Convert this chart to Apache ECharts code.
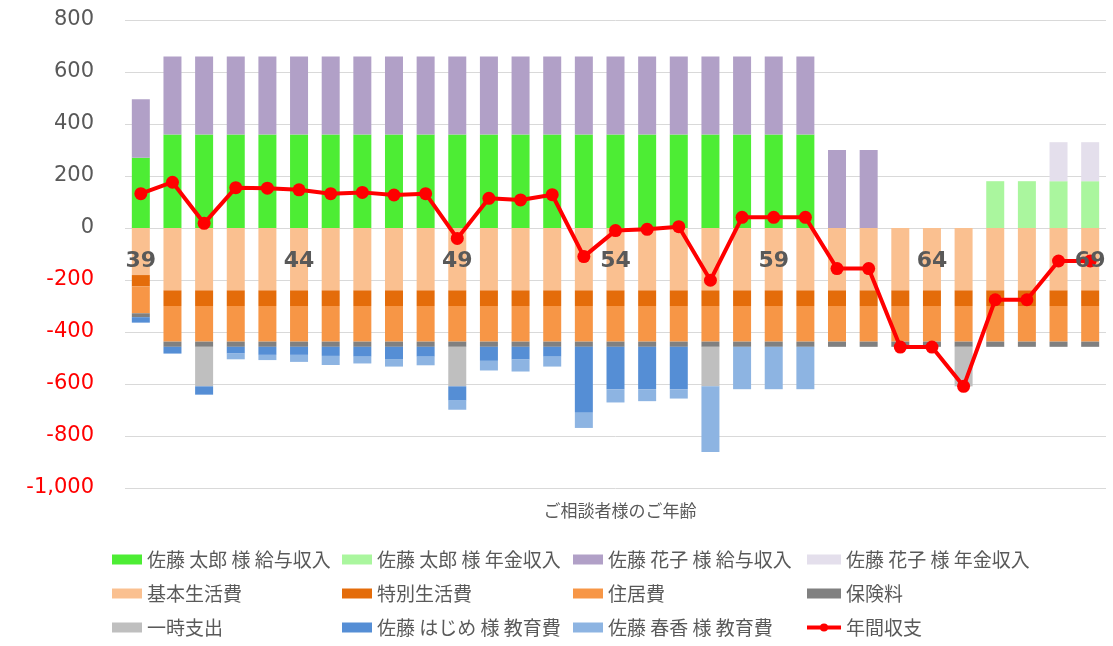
<!DOCTYPE html>
<html>
<head>
<meta charset="utf-8">
<script src="https://cdn.jsdelivr.net/npm/echarts@6/dist/echarts.min.js"></script>
<style>
  html, body { margin: 0; padding: 0; background: #fff; }
  #chart { width: 1113px; height: 646px; }
</style>
</head>
<body>
<div id="chart"></div>
<script>
// ご相談者様の年齢
const ages = ["39", "40", "41", "42", "43", "44", "45", "46", "47", "48", "49", "50", "51", "52", "53", "54",
  "55", "56", "57", "58", "59", "60", "61", "62", "63", "64", "65", "66", "67", "68", "69"];

// 収入 (プラス側)
const taroSalary = [270, 360, 360, 360, 360, 360, 360, 360, 360, 360, 360, 360, 360, 360, 360, 360,
  360, 360, 360, 360, 360, 360, 0, 0, 0, 0, 0, 0, 0, 0, 0];
const taroPension = [0, 0, 0, 0, 0, 0, 0, 0, 0, 0, 0, 0, 0, 0, 0, 0,
  0, 0, 0, 0, 0, 0, 0, 0, 0, 0, 0, 180, 180, 180, 180];
const hanakoSalary = [225, 300, 300, 300, 300, 300, 300, 300, 300, 300, 300, 300, 300, 300, 300, 300,
  300, 300, 300, 300, 300, 300, 300, 300, 0, 0, 0, 0, 0, 0, 0];
const hanakoPension = [0, 0, 0, 0, 0, 0, 0, 0, 0, 0, 0, 0, 0, 0, 0, 0,
  0, 0, 0, 0, 0, 0, 0, 0, 0, 0, 0, 0, 0, 150, 150];

// 支出 (マイナス側)
const basicLiving = [-181, -240, -240, -240, -240, -240, -240, -240, -240, -240, -240, -240, -240, -240, -240, -240,
  -240, -240, -240, -240, -240, -240, -240, -240, -240, -240, -240, -240, -240, -240, -240];
const specialLiving = [-44, -60, -60, -60, -60, -60, -60, -60, -60, -60, -60, -60, -60, -60, -60, -60,
  -60, -60, -60, -60, -60, -60, -60, -60, -60, -60, -60, -60, -60, -60, -60];
const housing = [-103, -137, -137, -137, -137, -137, -137, -137, -137, -137, -137, -137, -137, -137, -137, -137,
  -137, -137, -137, -137, -137, -137, -137, -137, -137, -137, -137, -137, -137, -137, -137];
const insurance = [-15, -20, -20, -20, -20, -20, -20, -20, -20, -20, -20, -20, -20, -20, -20, -20,
  -20, -20, -20, -20, -20, -20, -20, -20, -20, -20, -20, -20, -20, -20, -20];
const oneTime = [0, 0, -152, 0, 0, 0, 0, 0, 0, 0, -152, 0, 0, 0, 0, 0,
  0, 0, -152, 0, 0, 0, 0, 0, 0, 0, -152, 0, 0, 0, 0];
const hajimeEdu = [-21, -26, -32, -26, -31, -31, -35, -38, -47, -38, -55, -54, -49, -38, -254, -163,
  -163, -163, 0, 0, 0, 0, 0, 0, 0, 0, 0, 0, 0, 0, 0];
const harukaEdu = [0, 0, 0, -22, -20, -27, -35, -26, -29, -33, -35, -37, -46, -38, -58, -51,
  -46, -36, -253, -163, -163, -163, 0, 0, 0, 0, 0, 0, 0, 0, 0];

// 年間収支
const balance = [132, 176, 18, 155, 153, 147, 132, 137, 127, 132, -40, 114, 108, 128, -110, -10,
  -5, 5, -201, 41, 41, 41, -156, -156, -458, -458, -609, -276, -276, -127, -127];

const font = "Noto Sans CJK JP";
const textGray = "#595959";

const myChart = echarts.init(document.getElementById("chart"));

function barSeries(name, data, color) {
  return {
    name: name,
    type: "bar",
    stack: "total",
    data: data,
    barWidth: 18,
    itemStyle: { color: color },
  };
}

const legendBase = {
  orient: "vertical",
  top: 550,
  padding: 0,
  itemWidth: 30,
  itemHeight: 10,
  itemGap: 15,
  textStyle: { color: textGray, fontSize: 19, fontFamily: font },
};

function rectItems(names) {
  return names.map((n) => ({ name: n, icon: "rect" }));
}

const option = {
  animation: false,
  textStyle: { fontFamily: font },
  title: {
    text: "ご相談者様のご年齢",
    left: 615,
    top: 497,
    textAlign: "center",
    textStyle: { color: textGray, fontSize: 17, fontWeight: "normal", fontFamily: font },
  },
  grid: { left: 125, right: 7, top: 20, height: 468 },
  legend: [
    Object.assign({}, legendBase, { left: 112, data: rectItems(["佐藤 太郎 様 給与収入", "基本生活費", "一時支出"]) }),
    Object.assign({}, legendBase, { left: 342, data: rectItems(["佐藤 太郎 様 年金収入", "特別生活費", "佐藤 はじめ 様 教育費"]) }),
    Object.assign({}, legendBase, { left: 573, data: rectItems(["佐藤 花子 様 給与収入", "住居費", "佐藤 春香 様 教育費"]) }),
    Object.assign({}, legendBase, {
      left: 805,
      itemWidth: 34,
      data: rectItems(["佐藤 花子 様 年金収入", "保険料"]).concat([{ name: "年間収支", lineStyle: { width: 4 } }]),
    }),
  ],
  xAxis: {
    type: "category",
    data: ages,
    z: 10,
    position: "bottom",
    // 0 の位置 (下端から 260px 上) に年齢ラベルを置く
    offset: -260,
    axisLine: { show: false },
    axisTick: { show: false },
    axisLabel: {
      interval: 4,
      margin: 22,
      color: textGray,
      fontSize: 22,
      fontWeight: "bold",
      fontFamily: "DejaVu Sans",
    },
  },
  yAxis: {
    type: "value",
    min: -1000,
    max: 800,
    interval: 200,
    axisLine: { show: false },
    axisTick: { show: false },
    splitLine: { lineStyle: { color: "#d9d9d9", width: 1 } },
    axisLabel: {
      margin: 31,
      fontSize: 21,
      fontFamily: "DejaVu Sans",
      formatter: (v) => v.toLocaleString("en-US"),
      color: (v) => (Number(v) < 0 ? "#ff0000" : textGray),
    },
  },
  series: [
    barSeries("佐藤 太郎 様 給与収入", taroSalary, "#4ded34"),
    barSeries("佐藤 太郎 様 年金収入", taroPension, "#aaf69e"),
    barSeries("佐藤 花子 様 給与収入", hanakoSalary, "#b1a0c7"),
    barSeries("佐藤 花子 様 年金収入", hanakoPension, "#e4dfec"),
    barSeries("基本生活費", basicLiving, "#fac090"),
    barSeries("特別生活費", specialLiving, "#e46c0a"),
    barSeries("住居費", housing, "#f79646"),
    barSeries("保険料", insurance, "#808080"),
    barSeries("一時支出", oneTime, "#bfbfbf"),
    barSeries("佐藤 はじめ 様 教育費", hajimeEdu, "#558ed5"),
    barSeries("佐藤 春香 様 教育費", harukaEdu, "#8db4e2"),
    {
      name: "年間収支",
      type: "line",
      data: balance,
      z: 5,
      color: "#ff0000",
      lineStyle: { width: 4, color: "#ff0000" },
      itemStyle: { color: "#ff0000" },
      symbol: "circle",
      symbolSize: 13,
    },
  ],
};

myChart.setOption(option);

window.addEventListener("resize", () => myChart.resize());
</script>
</body>
</html>
